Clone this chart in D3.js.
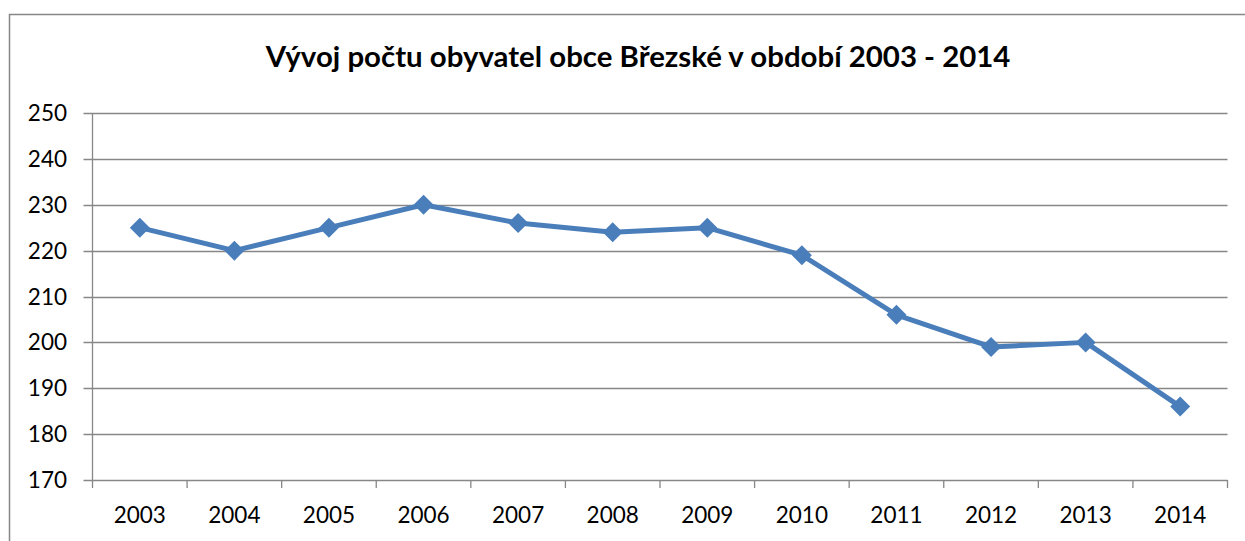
<!DOCTYPE html>
<html><head><meta charset="utf-8">
<script src="https://cdn.jsdelivr.net/npm/d3@7"></script>
<style>body{margin:0;background:#fff}svg{display:block}text{font-family:Lato,"Open Sans",sans-serif}</style>
</head><body><svg id="c" width="1245" height="541"></svg>
<script>
const title = "Vývoj počtu obyvatel obce Březské v období 2003 - 2014";
const years = ["2003","2004","2005","2006","2007","2008","2009","2010","2011","2012","2013","2014"];
const population = [225,220,225,230,226,224,225,219,206,199,200,186];
const yTicks = [170,180,190,200,210,220,230,240,250];

(function(){
const svg = d3.select("#c");
const pL = 92.5, pR = 1227.5, pT = 113, pB = 480;
const x = d3.scaleBand().domain(years).range([pL, pR]);
const y = d3.scaleLinear().domain([170,250]).range([pB, pT]);
const grey = "#878787";

svg.append("rect").attr("x",9.5).attr("y",14.5).attr("width",1260).attr("height",560)
  .attr("fill","none").attr("stroke",grey).attr("stroke-width",1.5);

// gridlines
svg.append("g").selectAll("line").data(yTicks).join("line")
  .attr("x1",pL-9).attr("x2",pR).attr("y1",d=>Math.round(y(d))+0.5).attr("y2",d=>Math.round(y(d))+0.5)
  .attr("stroke",grey).attr("stroke-width",1.3);

// y labels
svg.append("g").selectAll("text").data(yTicks).join("text")
  .attr("x",67).attr("y",d=>y(d)).attr("dy","0.36em").attr("text-anchor","end")
  .attr("font-size",22.5).attr("fill","#000").text(d=>d);

// y axis line
svg.append("line").attr("x1",pL).attr("x2",pL).attr("y1",pT).attr("y2",pB+8)
  .attr("stroke",grey).attr("stroke-width",1.3);

// x ticks
const bounds = years.map(d=>x(d)).concat([pR]);
svg.append("g").selectAll("line").data(bounds.slice(1)).join("line")
  .attr("x1",d=>d).attr("x2",d=>d).attr("y1",pB).attr("y2",pB+8)
  .attr("stroke",grey).attr("stroke-width",1.3);

// x labels
svg.append("g").selectAll("text").data(years).join("text")
  .attr("x",d=>x(d)+x.bandwidth()/2).attr("y",523).attr("text-anchor","middle")
  .attr("font-size",22.5).attr("fill","#000").text(d=>d);

// line
const cx = d=>x(d)+x.bandwidth()/2;
svg.append("path").datum(years.map((d,i)=>[cx(d), y(population[i])]))
  .attr("d", d3.line()).attr("fill","none").attr("stroke","#4a7ebb").attr("stroke-width",5)
  .attr("stroke-linejoin","round");

svg.append("g").selectAll("path").data(years).join("path")
  .attr("transform",(d,i)=>`translate(${cx(d)},${y(population[i])})`)
  .attr("d","M0,-10L10,0L0,10L-10,0Z").attr("fill","#4a7ebb");

// title
const t = svg.append("text").attr("x",638).attr("y",67).attr("text-anchor","middle")
  .attr("font-size",24).attr("font-weight","bold").attr("fill","#000").text(title);
const w = t.node().getComputedTextLength();
t.attr("font-size", 24*745/w);
})();
</script></body></html>
